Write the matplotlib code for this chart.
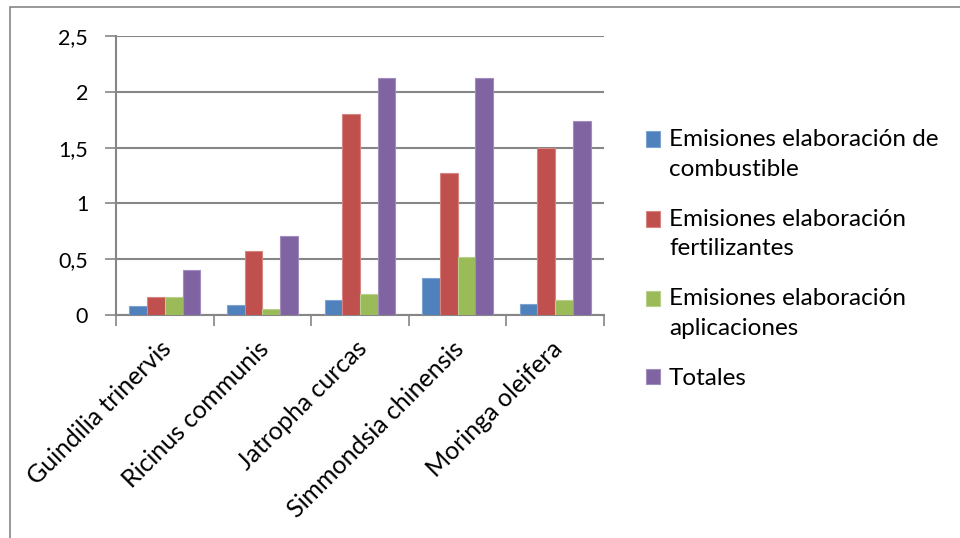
import matplotlib
matplotlib.use("Agg")
import matplotlib.pyplot as plt
import matplotlib.patches as mpatches
import numpy as np

plt.rcParams['font.family'] = ['Lato', 'DejaVu Sans']

especies = ['Guindilia trinervis', 'Ricinus communis', 'Jatropha curcas',
            'Simmondsia chinensis', 'Moringa oleifera']
combustible = [0.08, 0.09, 0.13, 0.33, 0.10]
fertilizantes = [0.16, 0.57, 1.80, 1.27, 1.50]
aplicaciones = [0.16, 0.05, 0.19, 0.52, 0.13]
totales = [0.40, 0.71, 2.12, 2.12, 1.74]

series = [combustible, fertilizantes, aplicaciones, totales]
nombres = ['Emisiones elaboración de\ncombustible',
           'Emisiones elaboración\nfertilizantes',
           'Emisiones elaboración\naplicaciones',
           'Totales']
colores = ['#4F81BD', '#C0504D', '#9BBB59', '#8064A2']
bordes = ['#7FA3D1', '#D88582', '#B9D08A', '#A08CBD']

W, H = 960, 538
fig = plt.figure(figsize=(W / 100, H / 100), dpi=100)
ax = fig.add_axes([116 / W, 1 - 315 / H, (604 - 116) / W, (315 - 36) / H])

# chart frame (runs off the right and bottom edges)
fig.patches.append(mpatches.Rectangle((10 / W, -0.2), 1.2, 1.2 - 7 / H, transform=fig.transFigure,
                                      fill=False, edgecolor='#868686', lw=1.2))

x = np.arange(len(especies))
bw = 1 / 5.5
for i, (vals, nom, c, b) in enumerate(zip(series, nombres, colores, bordes)):
    ax.bar(x + (i - 1.5) * bw, vals, bw, color=c, edgecolor=b, linewidth=0.8,
           label=nom, zorder=3)

ax.set_xlim(-0.5, len(especies) - 0.5)
ax.set_ylim(0, 2.5)
ax.set_yticks(np.arange(0, 2.51, 0.5))
ax.set_yticklabels(['0', '0,5', '1', '1,5', '2', '2,5'])
ax.yaxis.grid(True, color='#868686', lw=1.5, zorder=0)
for s in ['top', 'right']:
    ax.spines[s].set_visible(False)
for s in ['left', 'bottom']:
    ax.spines[s].set_color('#868686')
    ax.spines[s].set_linewidth(1.5)
ax.tick_params(axis='y', length=8, width=1.2, color='#868686', labelsize=15.5, pad=12)

# category ticks sit on the group boundaries
ax.set_xticks(np.arange(-0.5, len(especies), 1))
ax.set_xticklabels([])
ax.tick_params(axis='x', length=8, width=1.2, color='#868686')
for xi, nombre in zip(x, especies):
    ax.annotate(nombre, xy=(xi, 0), xycoords=('data', 'axes fraction'),
                xytext=(3, -30), textcoords='offset pixels',
                rotation=45, ha='right', va='center', rotation_mode='anchor',
                fontsize=18)

leg = fig.legend(loc='center left', bbox_to_anchor=(624 / W, 1 - 259 / H), frameon=False,
                 fontsize=17.5, handlelength=0.6, handleheight=0.6, handletextpad=0.35,
                 labelspacing=1.2)
for t in leg.get_texts():
    t.set_linespacing(1.5)
# keep the colour square level with the first line of two-line labels
for h, nom in zip(leg.legend_handles, nombres):
    if '\n' in nom:
        h.set_y(h.get_y() + 10.8)

fig.savefig('out.png', dpi=100)
